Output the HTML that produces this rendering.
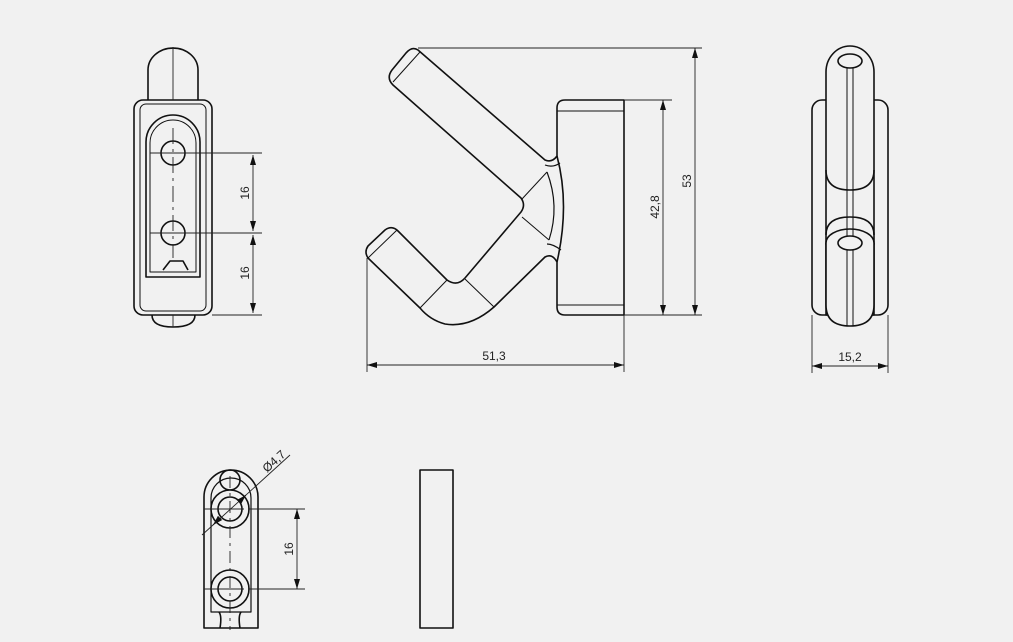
<!DOCTYPE html>
<html><head><meta charset="utf-8"><style>
html,body{margin:0;padding:0;background:#f1f1f1;}
svg{display:block;}
text{font-family:"Liberation Sans",sans-serif;font-size:12px;fill:#222;}
</style></head><body>
<svg width="1013" height="642" viewBox="0 0 1013 642" xmlns="http://www.w3.org/2000/svg">
<defs>
<marker id="a" viewBox="0 0 10 6" refX="10" refY="3" markerWidth="10" markerHeight="6" orient="auto-start-reverse" markerUnits="userSpaceOnUse"><path d="M0,0 L10,3 L0,6 z" fill="#111"/></marker>
</defs>
<rect width="1013" height="642" fill="#f1f1f1"/>
<g fill="none" stroke="#111" stroke-width="1.6" stroke-linejoin="round">
<!-- LEFT VIEW -->
<path d="M148,100 L148,70 A25,22 0 0 1 198,70 L198,100"/>
<rect x="134" y="100" width="78" height="215" rx="9"/>
<rect x="140" y="104" width="66" height="207" rx="6" stroke-width="1"/>
<path d="M146,277 L146,142 A27,27 0 0 1 200,142 L200,277 Z"/>
<path d="M150,272 L150,143 A23,23 0 0 1 196,143 L196,272 Z" stroke-width="1"/>
<path d="M163,270 L170,261 L183,261 L188,270"/>
<circle cx="173" cy="153" r="12"/>
<circle cx="173" cy="233" r="12"/>
<path d="M152,315 Q152,327 173,327 Q195,327 195,315"/>
<!-- MIDDLE VIEW -->
<path d="M418,50 L545,160 Q552,163 557,156 L557,108 Q557,100 565,100 L624,100 L624,315 L565,315 Q557,315 557,307 L557,262 Q552,253 545,257 L494,307 Q470,328 445,324 Q430,320 420,308 L368,258 Q364,252 368,246 L385,230 Q392,225 398,231 L447,280 Q457,287 465,278 L521,212 Q526,205 521,198 L393,85 Q386,78 392,70 L406,53 Q412,46 418,50 Z"/>
<path d="M557,156 Q570,205 557,262"/>
<path d="M547,172 Q560,206 549,240" stroke-width="1.2"/>
<path d="M545,165 Q553,168 560,163 M547,244 Q553,244 561,250" stroke-width="1.2"/>
<g stroke-width="1">
<line x1="393" y1="82" x2="420" y2="52"/>
<line x1="368" y1="258" x2="397" y2="230"/>
<line x1="420" y1="308" x2="447" y2="280"/>
<line x1="465" y1="279" x2="494" y2="307"/>
<line x1="522" y1="199" x2="547" y2="172"/>
<line x1="522" y1="217" x2="549" y2="240"/>
<line x1="557" y1="111" x2="624" y2="111"/>
<line x1="557" y1="305" x2="624" y2="305"/>
</g>
<!-- RIGHT VIEW -->
<rect x="812" y="100" width="76" height="215" rx="10"/>
<path d="M826,315 L826,72 A24,26 0 0 1 874,72 L874,315 Z" fill="#f1f1f1"/>
<path d="M826,170 Q826,190 850,190 Q874,190 874,170"/>
<path d="M826,235 Q826,217 850,217 Q874,217 874,235"/>
<ellipse cx="850" cy="243" rx="24" ry="14" fill="#f1f1f1"/>
<path d="M826,243 L826,305 Q826,326 850,326 Q874,326 874,305 L874,243" fill="#f1f1f1"/>
<ellipse cx="850" cy="61" rx="12" ry="7"/>
<ellipse cx="850" cy="243" rx="12" ry="7"/>
<line x1="847" y1="68" x2="847" y2="236" stroke-width="1"/>
<line x1="853" y1="68" x2="853" y2="236" stroke-width="1"/>
<line x1="847" y1="250" x2="847" y2="326" stroke-width="1"/>
<line x1="853" y1="250" x2="853" y2="326" stroke-width="1"/>
<!-- BOTTOM LEFT VIEW -->
<path d="M204,628 L204,497 A27,27 0 0 1 258,497 L258,628 Z"/>
<path d="M211,612 L211,498 A20,20 0 0 1 251,498 L251,612 Z" stroke-width="1.2"/>
<circle cx="230" cy="480" r="10"/>
<circle cx="230" cy="509" r="19" fill="#f1f1f1"/>
<circle cx="230" cy="509" r="12"/>
<circle cx="230" cy="589" r="19" fill="#f1f1f1"/>
<circle cx="230" cy="589" r="12"/>
<path d="M219,612 Q222,616 220,628 M241,612 Q238,616 240,628"/>
<rect x="420" y="470" width="33" height="158"/>
</g>
<!-- center lines / dims -->
<g stroke="#222" stroke-width="0.9" fill="none">
<line x1="173" y1="128" x2="173" y2="258" stroke-dasharray="16,5,3,5"/>
<line x1="173" y1="315" x2="173" y2="327"/>
<line x1="173" y1="47" x2="173" y2="100"/>
<line x1="150" y1="153" x2="262" y2="153"/>
<line x1="150" y1="233" x2="262" y2="233"/>
<line x1="212" y1="315" x2="262" y2="315"/>
<line x1="253" y1="155" x2="253" y2="231" marker-start="url(#a)" marker-end="url(#a)"/>
<line x1="253" y1="235" x2="253" y2="313" marker-start="url(#a)" marker-end="url(#a)"/>

<line x1="418" y1="48" x2="702" y2="48"/>
<line x1="624" y1="100" x2="672" y2="100"/>
<line x1="624" y1="315" x2="702" y2="315"/>
<line x1="663" y1="100" x2="663" y2="315" marker-start="url(#a)" marker-end="url(#a)"/>
<line x1="695" y1="48" x2="695" y2="315" marker-start="url(#a)" marker-end="url(#a)"/>
<line x1="367" y1="258" x2="367" y2="372"/>
<line x1="624" y1="315" x2="624" y2="372"/>
<line x1="367" y1="365" x2="624" y2="365" marker-start="url(#a)" marker-end="url(#a)"/>

<line x1="812" y1="315" x2="812" y2="373"/>
<line x1="888" y1="315" x2="888" y2="373"/>
<line x1="812" y1="366" x2="888" y2="366" marker-start="url(#a)" marker-end="url(#a)"/>

<line x1="230" y1="476" x2="230" y2="630" stroke-dasharray="12,5,3,5"/>
<line x1="204" y1="509" x2="305" y2="509" stroke-dasharray="40,4,60"/>
<line x1="204" y1="589" x2="305" y2="589" stroke-dasharray="40,4,60"/>
<line x1="297" y1="509" x2="297" y2="589" marker-start="url(#a)" marker-end="url(#a)"/>
<line x1="202" y1="535" x2="290" y2="455"/>
<line x1="213" y1="525" x2="219" y2="519" marker-start="url(#a)"/>
<line x1="246" y1="495" x2="240" y2="501" marker-start="url(#a)"/>
</g>
<g>
<text transform="translate(249,193) rotate(-90)" text-anchor="middle">16</text>
<text transform="translate(249,273) rotate(-90)" text-anchor="middle">16</text>
<text transform="translate(659,207) rotate(-90)" text-anchor="middle">42,8</text>
<text transform="translate(691,181) rotate(-90)" text-anchor="middle">53</text>
<text x="494" y="360" text-anchor="middle">51,3</text>
<text x="850" y="361" text-anchor="middle">15,2</text>
<text transform="translate(293,549) rotate(-90)" text-anchor="middle">16</text>
<text transform="translate(267,473) rotate(-42)">Ø4,7</text>
</g>
</svg>
</body></html>
